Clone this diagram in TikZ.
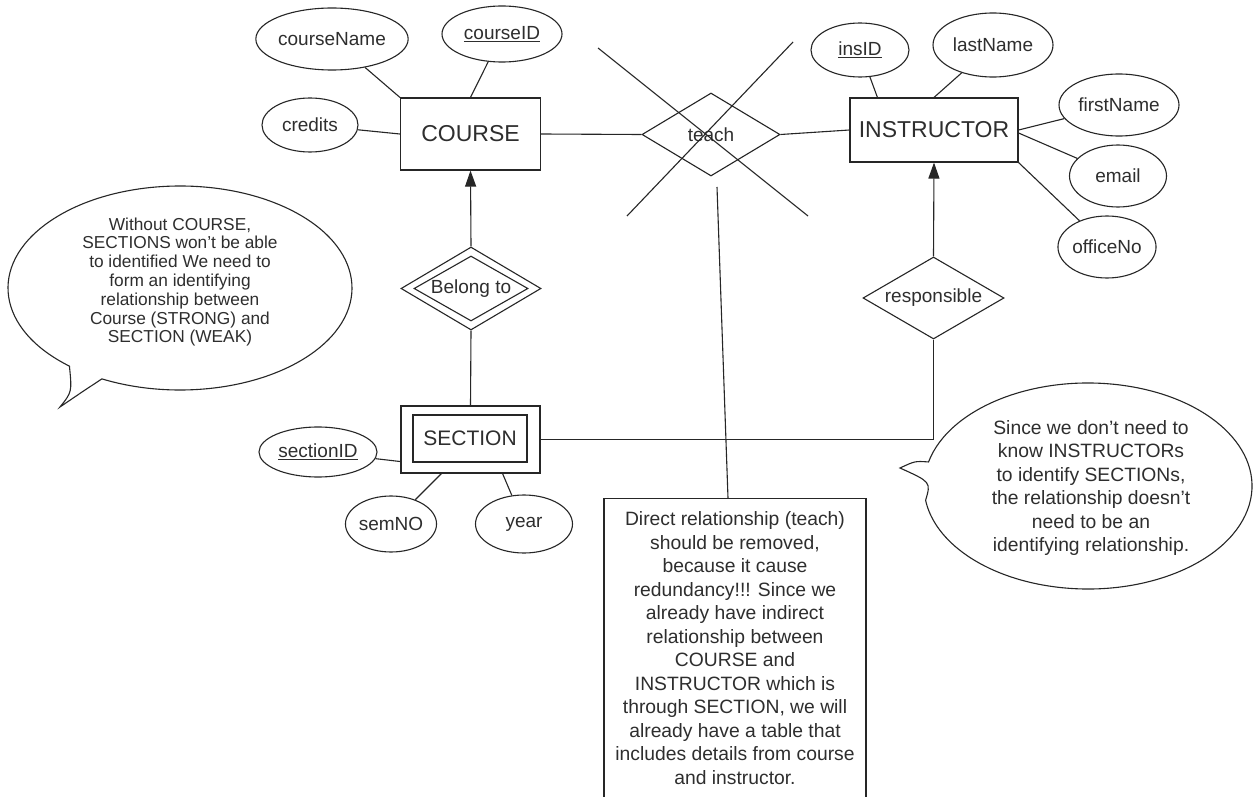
\documentclass[tikz,border=0pt]{standalone}
\usepackage{fontspec}
\setmainfont{Liberation Sans}
\usetikzlibrary{shapes.geometric,arrows.meta,calc}
\definecolor{ink}{HTML}{262626}
\definecolor{txt}{HTML}{2E2E2E}

\begin{document}
\begin{tikzpicture}[x=1pt,y=-1pt,
  every node/.style={text=txt},
  attr/.style={ellipse, draw=ink, fill=white, line width=1.1pt, inner sep=0pt,
    font=\fontsize{19}{22}\selectfont},
  entity/.style={rectangle, draw=ink, fill=white, line width=1.1pt, inner sep=0pt,
    font=\fontsize{23}{26}\selectfont},
  rel/.style={diamond, draw=ink, fill=white, line width=1.1pt, inner sep=0pt,
    aspect=1.7, font=\fontsize{19}{22}\selectfont},
  link/.style={draw=ink, line width=1.1pt},
  isa/.style={link, -{Triangle[length=16pt,width=11pt]}},
  bubble/.style={draw=ink, fill=white, line width=1.1pt},
  notetext/.style={align=center, inner sep=0pt}
]
\useasboundingbox (0,0) rectangle (1254,797);
\fill[white] (0,0) rectangle (1254,797);

% ---------- COURSE and its attributes ----------
\node[entity, minimum width=140pt, minimum height=72pt] (course) at (470.5,134) {COURSE};
\node[attr, minimum width=140pt, minimum height=62pt] (cname) at (332,39) {courseName};
\node[attr, minimum width=120pt, minimum height=56pt] (cid) at (502,34) {\underline{courseID}};
\node[attr, minimum width=96pt, minimum height=54pt] (credits) at (310,125) {credits};

% ---------- INSTRUCTOR and its attributes ----------
\node[entity, minimum width=168pt, minimum height=64pt] (instructor) at (934,130) {INSTRUCTOR};
\node[attr, minimum width=98pt, minimum height=54pt] (insid) at (860,50) {\underline{insID}};
\node[attr, minimum width=120pt, minimum height=64pt] (lastname) at (993,45) {lastName};
\node[attr, minimum width=120pt, minimum height=62pt] (firstname) at (1119,105) {firstName};
\node[attr, minimum width=97pt, minimum height=62pt] (email) at (1118,176) {email};
\node[attr, minimum width=97pt, minimum height=62pt] (officeno) at (1107,247) {officeNo};

% ---------- weak entity SECTION and its attributes ----------
\node[entity, minimum width=139pt, minimum height=67pt] (section) at (470.5,439.5) {};
\node[entity, minimum width=114pt, minimum height=47pt,
      font=\fontsize{21}{24}\selectfont] (sectionin) at (470,438.5) {SECTION};
\node[attr, minimum width=118pt, minimum height=50pt] (sectionid) at (318,452) {\underline{sectionID}};
\node[attr, minimum width=88pt, minimum height=56pt] (semno) at (391,524) {semNO};
\node[attr, minimum width=97pt, minimum height=58pt] (year) at (524,524) {year};

% ---------- relationships ----------
\node[rel, minimum width=138pt, minimum height=83pt] (teach) at (711,134.5) {teach};
\node[rel, minimum width=141pt, minimum height=82pt] (resp) at (933.5,298) {responsible};
\node[rel, minimum width=140pt, minimum height=83pt] (belong) at (471,288.5) {};
\node[rel, minimum width=114pt, minimum height=65pt] (belongin) at (471,288.5) {Belong to};

% ---------- attribute links ----------
\draw[link] (cname) -- (course.north west);
\draw[link] (cid) -- (course.north);
\draw[link] (credits) -- (course.west);
\draw[link] (insid) -- ($(instructor.north west)+(28,0)$);
\draw[link] (lastname) -- (instructor.north);
\draw[link] (firstname) -- (instructor.east);
\draw[link] (email) -- ($(instructor.east)+(0,3)$);
\draw[link] (officeno) -- (instructor.south east);
\draw[link] (sectionid) -- ($(section.south west)+(0,-12)$);
\draw[link] (semno) -- ($(section.south west)+(41,0)$);
\draw[link] (year) -- ($(section.south east)+(-38,0)$);

% ---------- relationship links ----------
\draw[link] (course.east) -- (teach.west);
\draw[link] (teach.east) -- (instructor.west);
\draw[isa] (belong.north) -- (course.south);
\draw[link] (belong.south) -- (section.north);
\draw[isa] (resp.north) -- (instructor.south);
\draw[link] (resp.south) |- (section.east);

% ---------- the crossed-out relationship ----------
\draw[link] (598,48) -- (808,216);
\draw[link] (793,42) -- (627,216);

% ---------- note box below "teach" ----------
\node[draw=ink, line width=1.1pt, minimum width=262pt, minimum height=330pt,
      anchor=north, inner sep=0pt] (notebox) at (735,498) {};
\node[notetext, font=\fontsize{19.3}{23.5}\selectfont] (note) at (735,648)
  {Direct relationship (teach)\\ should be removed,\\ because it cause\\
   redundancy!!! Since we\\ already have indirect\\ relationship between\\
   COURSE and\\ INSTRUCTOR which is\\ through SECTION, we will\\
   already have a table that\\ includes details from course\\ and instructor.};
\coordinate (teachstub) at (717,187);
\draw[link] (teachstub) -- ($(notebox.north)+(-7,0)$);

% ---------- speech bubble, left ----------
\coordinate (lb) at (180,288);
\draw[bubble] ($(lb)+(130:172 and 102)$)
   arc[start angle=130, end angle=477, x radius=172, y radius=102]
   .. controls (82,392) .. (60,407)
   .. controls (72,392) .. ($(lb)+(130:172 and 102)$) -- cycle;
\node[notetext, font=\fontsize{17.3}{18.8}\selectfont] (leftnote) at (180,282)
  {Without COURSE,\\ SECTIONS won't be able\\ to identified We need to\\
   form an identifying\\ relationship between\\ Course (STRONG) and\\ SECTION (WEAK)};

% ---------- speech bubble, right ----------
\coordinate (rb) at (1088,486);
\draw[bubble] ($(rb)+(193.5:164 and 103)$)
   arc[start angle=193.5, end angle=532, x radius=164, y radius=103]
   .. controls (931,482) .. (900,468)
   .. controls (915,461) .. ($(rb)+(193.5:164 and 103)$) -- cycle;
\node[notetext, font=\fontsize{19.3}{23.5}\selectfont] (rightnote) at (1091,488)
  {Since we don't need to\\ know INSTRUCTORs\\ to identify SECTIONs,\\
   the relationship doesn't\\ need to be an\\ identifying relationship.};
\end{tikzpicture}
\end{document}
